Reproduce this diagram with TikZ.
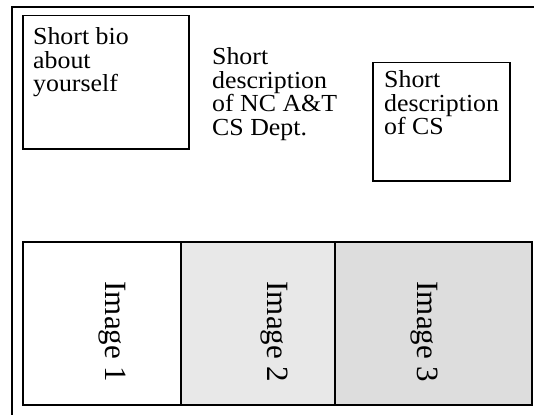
\documentclass[tikz,border=0pt]{standalone}
\usepackage{fontspec}
\setmainfont{Liberation Serif}
\newfontfamily\wideserif[FakeStretch=1.055]{Liberation Serif}

\begin{document}
\begin{tikzpicture}[x=1pt, y=-1pt,
    frame/.style={draw, line width=1.5pt, inner sep=0pt, anchor=north west},
    cell/.style={frame, minimum height=163pt},
    blurb/.style={align=left, inner sep=0pt, anchor=base west,
      font=\wideserif\fontsize{24.5}{23.5}\selectfont},
    caption/.style={rotate=-90, inner sep=0pt, font=\fontsize{31}{31}\selectfont}]
    \useasboundingbox (0,0) rectangle (534,414);
    % page frame, runs off the right and bottom
    \draw [line width=1.7pt] (12,440) -- (12,7) -- (560,7);
    % text boxes (blurbs sit on their last baseline)
    \node [frame, minimum width=166pt, minimum height=133pt] (bio) at (22,15) {};
    \node [frame, minimum width=137pt, minimum height=118pt] (cs) at (372,62) {};
    \node [blurb] (biotext) at (33,92) {Short bio\\about\\yourself};
    \node [blurb] (depttext) at (212,135.5) {Short\\description\\of NC A\&T\\CS Dept.};
    \node [blurb] (cstext) at (384,135) {Short\\description\\of CS};
    % image strip
    \node [cell, minimum width=158pt] (img1) at (22,241) {};
    \node [cell, minimum width=154pt, fill=gray!18] (img2) at (180,241) {};
    \node [cell, minimum width=197pt, fill=gray!27] (img3) at (334,241) {};
    \foreach \n/\x in {1/112, 2/274, 3/424} {
      \node [caption] (cap\n) at (\x,332) {Image \n};
    }
  \end{tikzpicture}
\end{document}
